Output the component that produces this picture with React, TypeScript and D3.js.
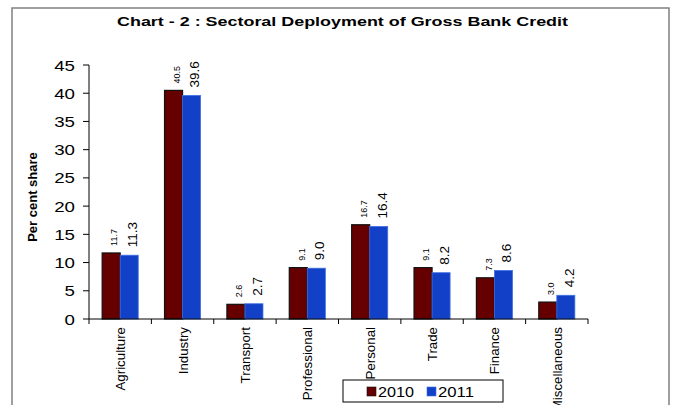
import React from "react";
import * as d3 from "d3";

const categories = ["Agriculture", "Industry", "Transport", "Professional", "Personal", "Trade", "Finance", "Miscellaneous"];
const series = ["2010", "2011"];
const values2010 = [11.7, 40.5, 2.6, 9.1, 16.7, 9.1, 7.3, 3.0];
const values2011 = [11.3, 39.6, 2.7, 9.0, 16.4, 8.2, 8.6, 4.2];
const yTicks = [0, 5, 10, 15, 20, 25, 30, 35, 40, 45];
const title = "Chart - 2 : Sectoral Deployment of Gross Bank Credit";
const yTitle = "Per cent share";

const colors: Record<string, string> = { "2010": "#660000", "2011": "#1241C8" };
const strokes: Record<string, string> = { "2010": "#111111", "2011": "#3f6fe0" };

export default function App() {
  const W = 688, H = 405;
  const x0 = 89, x1 = 588, yTop = 65, yBot = 319;
  const x = d3.scaleBand<string>().domain(categories).range([x0, x1]).paddingInner(0).paddingOuter(0);
  const xs = d3.scaleBand<string>().domain(series).range([0, x.bandwidth()]).paddingInner(0).paddingOuter(0.73);
  const y = d3.scaleLinear().domain([0, 45]).range([yBot, yTop]);
  const data = series.map((s) => ({ s, vals: s === "2010" ? values2010 : values2011 }));
  const font = "'Liberation Sans', Arial, sans-serif";
  const boundaries = categories.map((c) => x(c)!).concat([x1]);

  return (
    <svg width={W} height={H} style={{ position: "absolute", left: 0, top: 0, background: "#fff" }} fontFamily={font}>
      <rect x={0} y={0} width={W} height={H} fill="#fff" />
      {/* frame */}
      <path d={`M12,${H + 2} L12,8 L669,8 L669,${H + 2}`} fill="none" stroke="#808080" strokeWidth={1.5} />
      {/* title */}
      <text x={342.5} y={25.5} textAnchor="middle" fontSize={13.5} fontWeight="bold" textLength={451} lengthAdjust="spacingAndGlyphs" fill="#000">
        {title}
      </text>
      {/* y axis title */}
      <text transform={`translate(37,197) rotate(-90)`} textAnchor="middle" fontSize={13} fontWeight="bold" fill="#000">
        {yTitle}
      </text>
      {/* bars */}
      {data.map(({ s, vals }) =>
        categories.map((c, i) => {
          const bx = x(c)! + xs(s)!;
          const bw = xs.bandwidth();
          const by = y(vals[i]);
          return (
            <rect key={s + c} x={bx} y={by} width={bw} height={yBot - by} fill={colors[s]} stroke={strokes[s]} strokeWidth={s === "2010" ? 1.2 : 0.8} />
          );
        })
      )}
      {/* data labels */}
      {data.map(({ s, vals }) =>
        categories.map((c, i) => {
          const cx = x(c)! + xs(s)! + xs.bandwidth() / 2;
          const fs = s === "2010" ? 9 : 13.5;
          const gap = s === "2010" ? 7 : 8;
          const bx = cx + fs * 0.36 + 3;
          const by = y(vals[i]) - gap;
          return (
            <text key={"l" + s + c} transform={`translate(${bx},${by}) rotate(-90)`} fontSize={fs} fill="#000">
              {vals[i].toFixed(1)}
            </text>
          );
        })
      )}
      {/* y axis */}
      <line x1={x0} x2={x0} y1={yTop} y2={yBot} stroke="#000" strokeWidth={1} />
      {yTicks.map((t) => (
        <g key={"t" + t}>
          <line x1={x0 - 6} x2={x0} y1={y(t)} y2={y(t)} stroke="#000" strokeWidth={1} />
          <text x={75} y={y(t)} dy="0.36em" textAnchor="end" fontSize={15.4} textLength={String(t).length * 10.4} lengthAdjust="spacingAndGlyphs" fill="#000">
            {t}
          </text>
        </g>
      ))}
      {/* x axis */}
      <line x1={x0} x2={x1} y1={yBot} y2={yBot} stroke="#000" strokeWidth={1} />
      {boundaries.map((b, i) => (
        <line key={"b" + i} x1={b} x2={b} y1={yBot} y2={yBot + 5} stroke="#000" strokeWidth={1} />
      ))}
      {categories.map((c) => (
        <text key={"c" + c} transform={`translate(${x(c)! + x.bandwidth() / 2 + 5},${327}) rotate(-90)`} textAnchor="end" fontSize={13.3} fill="#000">
          {c}
        </text>
      ))}
      {/* legend */}
      <rect x={343} y={380} width={160} height={22} fill="#fff" stroke="#000" strokeWidth={1} />
      {series.map((s, i) => {
        const lx = 367 + i * 60;
        return (
          <g key={"lg" + s}>
            <rect x={lx} y={387} width={9} height={9} fill={colors[s]} stroke={strokes[s]} strokeWidth={0.6} />
            <text x={lx + 11} y={396.5} fontSize={15} textLength={36} lengthAdjust="spacingAndGlyphs" fill="#000">
              {s}
            </text>
          </g>
        );
      })}
    </svg>
  );
}
